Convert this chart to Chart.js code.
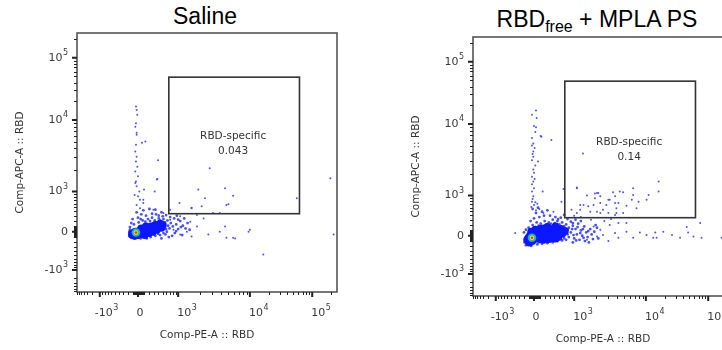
<!DOCTYPE html>
<html>
<head>
<meta charset="utf-8">
<script src="https://cdn.jsdelivr.net/npm/chart.js@4.4.1/dist/chart.umd.min.js"></script>
<style>
html, body { margin: 0; padding: 0; background: #fff; overflow: hidden; width: 722px; height: 350px; }
.panel { position: absolute; }
.title { position: absolute; font-family: "Liberation Sans", Arial, sans-serif; font-size: 23px; line-height: 23px; color: #000; text-align: center; white-space: nowrap; }
.title sub { font-size: 16px; line-height: 0; vertical-align: -5px; }
</style>
</head>
<body>
<div class="title" style="left:105px;top:5px;width:200px;">Saline</div>
<div class="title" style="left:457px;top:8px;width:280px;">RBD<sub>free</sub> + MPLA PS</div>
<canvas id="saline" class="panel" width="360" height="350" style="left:0;top:0"></canvas>
<canvas id="mpla" class="panel" width="360" height="350" style="left:396px;top:4px"></canvas>
<script>
// values are in display (biexponential) units: 0 = zero, ticks below mark 10^3, 10^4, 10^5
const tickValues = [-0.57, 0, 0.6, 1.67, 2.6];
const tickBases = ['-10', '0', '10', '10', '10'];
const tickExps = ['3', '', '3', '4', '5'];
const xRange = [-0.91, 2.97];
const yRange = [-0.9, 2.97];

// gate "RBD-specific": [xMin, xMax, yMin, yMax]
const gate = [0.46, 2.41, 0.27, 2.31];
const gateName = 'RBD-specific';
const gateFreq = ['0.043', '0.14'];

// ---- Saline ----
const salineHot = [[-0.03, -0.01]];
const salineCore = [
  [-0.09, -0.04], [-0.05, -0.06], [-0.04, 0.0], [0.0, -0.05], [0.02, 0.01], [0.06, -0.03],
  [0.08, 0.03], [0.12, 0.0], [0.14, 0.06], [0.18, 0.02], [0.2, 0.08], [0.24, 0.05],
  [0.26, 0.1], [0.3, 0.07], [0.33, 0.12], [0.37, 0.1], [0.1, -0.05], [0.16, -0.02],
  [0.22, 0.0], [0.05, 0.05], [0.12, 0.08], [0.28, 0.03], [0.35, 0.06], [-0.07, -0.02],
  [0.04, -0.01], [0.1, 0.02], [0.16, 0.04], [0.22, 0.06], [0.28, 0.08], [0.0, 0.0]
];
const salineHalo = [
  [-0.12, 0.07], [-0.06, 0.11], [0.01, 0.14], [0.07, 0.17], [0.15, 0.19], [0.21, 0.21],
  [0.31, 0.2], [0.38, 0.19], [0.44, 0.17], [0.49, 0.13], [0.47, 0.05], [0.43, 0.0],
  [0.41, -0.04], [0.33, -0.05], [0.26, -0.06], [0.19, -0.08], [0.13, -0.1], [0.04, -0.1],
  [-0.05, -0.1], [-0.12, -0.07], [-0.13, 0.0], [0.0, 0.21], [0.05, 0.26], [0.12, 0.24],
  [0.21, 0.27], [0.27, 0.26], [0.35, 0.29], [0.42, 0.25], [0.54, 0.2], [0.57, 0.11],
  [0.6, 0.04], [0.55, -0.02], [0.51, -0.06], [0.63, 0.16], [0.67, 0.09], [0.71, 0.05],
  [0.66, -0.05], [0.74, 0.13], [0.46, -0.08], [-0.02, 0.29], [0.08, 0.32], [0.17, 0.34],
  [0.26, 0.33], [-0.08, 0.19], [0.35, -0.1], [0.58, 0.24], [0.69, 0.2], [0.77, 0.03],
  [-0.1, 0.13], [0.04, 0.19], [0.11, 0.15], [0.18, 0.16], [0.25, 0.17], [0.33, 0.17],
  [0.4, 0.14], [0.45, 0.09], [0.52, 0.08], [0.42, 0.04], [0.38, -0.02], [0.3, -0.03],
  [0.24, -0.04], [0.17, -0.06], [0.08, -0.08], [-0.01, -0.08], [-0.1, -0.09], [-0.12, 0.03],
  [0.31, 0.24], [0.37, 0.23], [0.48, 0.22], [0.6, 0.18], [0.64, 0.07], [0.57, 0.01]
];
const salineSparse = [
  [-0.03, 1.87], [-0.02, 1.82], [-0.01, 1.75], [-0.03, 1.62], [-0.04, 1.57], [-0.02, 1.48],
  [-0.02, 1.45], [0.06, 1.33], [0.11, 1.35], [-0.03, 1.3], [-0.04, 1.2], [-0.02, 1.12],
  [-0.03, 1.05], [-0.01, 0.97], [-0.04, 0.9], [0.0, 0.83], [0.3, 1.07], [0.29, 0.79],
  [0.28, 0.78], [-0.04, 0.73], [-0.03, 0.75], [-0.02, 0.68], [0.09, 0.63], [0.25, 0.6],
  [0.02, 0.6], [-0.05, 0.55], [0.0, 0.53], [0.03, 0.48], [-0.02, 0.4], [0.08, 0.43],
  [0.08, 0.48], [0.03, 0.35], [0.23, 0.33], [0.38, 0.28], [0.48, 0.33], [0.48, 0.18],
  [1.07, 0.95], [0.9, 0.63], [1.0, 0.5], [0.8, 0.35], [0.62, 0.43], [1.3, 0.65],
  [1.32, 0.4], [1.12, 0.28], [1.42, 0.54], [1.35, 0.41], [0.95, 0.38], [2.37, 0.5],
  [2.87, 0.8], [1.22, 0.28], [0.8, 0.36], [0.63, 0.23], [0.88, 0.25], [0.98, 0.2],
  [0.78, 0.15], [0.88, 0.08], [1.3, 0.08], [1.32, -0.09], [1.45, -0.1], [1.67, 0.03],
  [1.65, 0.0], [1.42, -0.09], [1.05, -0.04], [1.22, 0.0], [0.8, -0.07], [0.73, 0.0],
  [0.63, -0.04], [0.53, 0.03], [2.92, -0.04], [1.87, -0.34]
];

// ---- RBDfree + MPLA PS ----
const mplaHot = [[-0.03, -0.03]];
const mplaCore = [
  [-0.1, -0.06], [-0.07, -0.1], [-0.06, 0.0], [-0.02, -0.07], [0.0, 0.03], [0.03, -0.04],
  [0.06, 0.06], [0.08, -0.02], [0.12, 0.04], [0.14, -0.06], [0.17, 0.08], [0.19, 0.0],
  [0.23, 0.05], [0.25, -0.04], [0.28, 0.1], [0.3, 0.02], [0.34, 0.07], [0.36, -0.02],
  [0.4, 0.1], [0.42, 0.03], [0.46, 0.07], [0.1, 0.1], [0.2, 0.13], [0.02, 0.09],
  [0.32, 0.14], [-0.04, 0.06], [-0.08, -0.03], [-0.03, -0.02], [0.04, 0.01], [0.1, -0.05],
  [0.15, 0.02], [0.21, -0.05], [0.26, 0.04], [0.32, -0.04], [0.38, 0.05], [0.14, 0.11]
];
const mplaHalo = [
  [-0.15, 0.05], [-0.14, -0.1], [-0.08, 0.12], [-0.02, 0.16], [0.04, 0.2], [0.1, 0.18],
  [0.16, 0.22], [0.22, 0.2], [0.28, 0.24], [0.35, 0.22], [0.42, 0.2], [0.48, 0.17],
  [0.52, 0.12], [0.55, 0.05], [0.52, -0.02], [0.48, -0.06], [0.42, -0.07], [0.35, -0.08],
  [0.28, -0.1], [0.2, -0.11], [0.12, -0.12], [0.05, -0.13], [-0.04, -0.15], [-0.12, -0.14],
  [0.58, 0.15], [0.62, 0.1], [0.64, 0.02], [0.6, -0.04], [0.66, 0.18], [0.7, 0.08],
  [0.72, 0.0], [0.68, -0.06], [0.75, 0.14], [0.78, 0.05], [0.8, -0.02], [0.76, -0.08],
  [0.84, 0.1], [0.86, 0.02], [0.9, 0.06], [0.0, 0.26], [0.08, 0.28], [0.15, 0.3],
  [0.24, 0.3], [0.32, 0.28], [0.4, 0.27], [0.5, 0.25], [-0.05, 0.22], [0.55, 0.21],
  [0.62, 0.24], [0.7, 0.22], [0.45, 0.31], [0.03, 0.34], [0.12, 0.36], [0.2, 0.38],
  [0.58, -0.1], [0.82, -0.1], [0.94, 0.12], [0.96, -0.04], [-0.02, 0.4], [0.06, 0.42],
  [-0.12, 0.09], [0.02, 0.13], [0.07, 0.15], [0.19, 0.17], [0.25, 0.18], [0.31, 0.19],
  [0.38, 0.17], [0.45, 0.14], [0.5, 0.09], [0.5, 0.02], [0.45, -0.04], [0.4, -0.05],
  [0.31, -0.07], [0.24, -0.08], [0.16, -0.09], [0.07, -0.1], [-0.01, -0.12], [-0.09, -0.12],
  [0.57, 0.1], [0.59, 0.01], [0.65, 0.13], [0.69, 0.04], [0.73, 0.1], [0.74, -0.03],
  [0.81, 0.07], [0.63, -0.07], [0.36, 0.25], [0.58, 0.19], [0.88, -0.05], [0.92, 0.16]
];
const mplaSparse = [
  [0.03, 1.87], [-0.03, 1.81], [0.04, 1.76], [0.0, 1.64], [0.03, 1.62], [0.02, 1.55],
  [0.11, 1.48], [0.1, 1.49], [0.26, 1.43], [-0.03, 1.46], [-0.01, 1.38], [-0.03, 1.35],
  [0.01, 1.31], [-0.01, 1.26], [-0.02, 1.22], [-0.01, 1.18], [0.06, 1.11], [-0.03, 1.13],
  [0.02, 1.05], [-0.01, 0.99], [0.0, 0.94], [-0.03, 0.88], [0.01, 0.85], [-0.01, 0.81],
  [-0.03, 0.77], [0.0, 0.71], [-0.03, 0.66], [0.13, 0.66], [-0.01, 0.59], [-0.02, 0.55],
  [-0.03, 0.51], [0.02, 0.5], [0.0, 0.46], [-0.04, 0.43], [0.03, 0.38], [0.05, 0.48],
  [0.08, 0.4], [0.44, 0.7], [0.41, 0.51], [0.29, 0.36], [0.14, 0.34], [0.73, 1.23],
  [0.64, 0.72], [0.69, 0.46], [0.81, 0.44], [0.94, 0.64], [0.91, 0.56], [0.99, 0.59],
  [1.11, 0.54], [1.21, 0.49], [0.56, 0.39], [0.84, 0.36], [1.03, 0.39], [1.23, 0.34],
  [0.79, 0.6], [0.91, 0.63], [0.96, 0.64], [1.18, 0.65], [1.33, 0.65], [1.48, 0.61],
  [1.71, 0.61], [1.86, 0.66], [1.56, 0.51], [1.53, 0.41], [1.38, 0.45], [1.26, 0.49],
  [1.13, 0.54], [1.08, 0.46], [0.99, 0.49], [0.89, 0.46], [0.74, 0.46], [0.69, 0.39],
  [0.64, 0.34], [0.99, 0.34], [1.11, 0.34], [1.21, 0.31], [1.33, 0.34], [0.94, 0.36],
  [1.23, 0.41], [1.21, 0.59], [1.46, 0.54], [1.48, 0.71], [1.68, 0.54], [1.28, 0.66],
  [1.86, 0.81], [0.64, 0.71], [2.28, 0.13], [2.48, 0.19], [1.38, 0.19], [1.26, 0.19],
  [1.38, 0.06], [1.58, 0.05], [1.68, 0.01], [1.81, 0.05], [1.93, 0.06], [1.78, -0.03],
  [1.83, -0.03], [2.06, 0.01], [2.18, -0.03], [2.3, 0.05], [2.38, -0.01], [2.5, -0.03],
  [1.48, -0.03], [1.26, -0.03], [1.11, -0.08], [1.03, 0.01], [1.21, 0.04], [0.99, 0.09],
  [0.89, 0.14], [1.13, 0.16], [0.79, -0.06], [0.94, -0.01], [-0.28, 0.04], [2.8, -0.03],
  [1.05, 0.22], [0.85, 0.24], [1.15, 0.25], [0.7, 0.28], [0.6, 0.3]
];

// minor tick positions for the axes (decoration only)
function minorTickPositions() {
  const out = [];
  const lin = v => Math.asinh(v / 500) / Math.asinh(2);
  for (let k = 1; k <= 9; k++) {
    out.push(0.6 * lin(10 * k), -0.57 * lin(10 * k));
    out.push(0.6 * lin(100 * k), -0.57 * lin(100 * k));
    if (k > 1) {
      out.push(0.6 + 1.07 * Math.log10(k));
      out.push(1.67 + 0.93 * Math.log10(k));
      out.push(2.6 + 0.93 * Math.log10(k));
      out.push(-0.57 - 0.4 * Math.log10(k));
    }
  }
  return out;
}
const minorTicks = minorTickPositions();

const textColor = '#333';
const tickFont = '"DejaVu Sans", sans-serif';

function drawPow(ctx, base, exp, x, y, mode) {
  ctx.font = '11px ' + tickFont;
  const bw = ctx.measureText(base).width;
  const mw = base.startsWith('-') ? ctx.measureText('-').width : 0;
  ctx.font = '8px ' + tickFont;
  const ew = exp ? ctx.measureText(exp).width + 0.5 : 0;
  let left;
  if (mode === 'right') left = x - bw - ew;
  else if (exp) left = x - mw - 1;
  else left = x - bw / 2 + 2;
  ctx.textAlign = 'left';
  ctx.textBaseline = 'middle';
  ctx.font = '11px ' + tickFont;
  ctx.fillText(base, left, y);
  if (exp) {
    ctx.font = '8px ' + tickFont;
    ctx.fillText(exp, left + bw + 0.5, y - 5);
  }
}

const flowAxes = {
  id: 'flowAxes',
  afterDatasetsDraw(chart, args, opts) {
    const { ctx, chartArea: a, scales: { x, y } } = chart;
    ctx.save();
    ctx.fillStyle = textColor;
    ctx.strokeStyle = '#333';

    // gate
    const gx1 = x.getPixelForValue(gate[0]), gx2 = x.getPixelForValue(gate[1]);
    const gy1 = y.getPixelForValue(gate[3]), gy2 = y.getPixelForValue(gate[2]);
    ctx.lineWidth = 1.6;
    ctx.strokeRect(gx1, gy1, gx2 - gx1, gy2 - gy1);
    ctx.font = '10.5px ' + tickFont;
    ctx.textAlign = 'center';
    ctx.textBaseline = 'middle';
    const lx = x.getPixelForValue(opts.labelAt[0]), ly = y.getPixelForValue(opts.labelAt[1]);
    ctx.fillText(gateName, lx, ly);
    ctx.fillText(opts.freq, lx, ly + 15);

    // frame
    ctx.strokeStyle = '#555';
    ctx.lineWidth = 1.6;
    ctx.strokeRect(a.left, a.top, a.right - a.left, a.bottom - a.top);

    // tick marks
    ctx.strokeStyle = '#222';
    ctx.lineWidth = 1;
    ctx.beginPath();
    minorTicks.forEach(v => {
      if (v > xRange[0] && v < xRange[1]) {
        const px = Math.round(x.getPixelForValue(v)) + 0.5;
        ctx.moveTo(px, a.bottom); ctx.lineTo(px, a.bottom + 3);
      }
      if (v > yRange[0] && v < yRange[1]) {
        const py = Math.round(y.getPixelForValue(v)) + 0.5;
        ctx.moveTo(a.left, py); ctx.lineTo(a.left - 3, py);
      }
    });
    ctx.stroke();
    ctx.lineWidth = 2;
    ctx.beginPath();
    tickValues.forEach(v => {
      const px = x.getPixelForValue(v), py = y.getPixelForValue(v);
      ctx.moveTo(px, a.bottom); ctx.lineTo(px, a.bottom + 5);
      ctx.moveTo(a.left, py); ctx.lineTo(a.left - 5, py);
    });
    ctx.stroke();

    // tick labels
    ctx.fillStyle = '#3a3a3a';
    tickValues.forEach((v, i) => {
      drawPow(ctx, tickBases[i], tickExps[i], x.getPixelForValue(v), a.bottom + 21, 'center');
      drawPow(ctx, tickBases[i], tickExps[i], a.left - 9, y.getPixelForValue(v), 'right');
    });

    // axis titles
    ctx.fillStyle = textColor;
    ctx.font = '10.5px ' + tickFont;
    ctx.textAlign = 'center';
    ctx.textBaseline = 'middle';
    ctx.fillText('Comp-PE-A :: RBD', (a.left + a.right) / 2, a.bottom + 43);
    ctx.translate(20, (a.top + a.bottom) / 2);
    ctx.rotate(-Math.PI / 2);
    ctx.fillText('Comp-APC-A :: RBD', 0, 0);
    ctx.restore();
  }
};

const toXY = arr => arr.map(p => ({ x: p[0], y: p[1] }));

function panel(id, hot, core, halo, sparse, freq, labelAt) {
  const pts = (data, r, color) => ({ data: toXY(data), pointRadius: r, backgroundColor: color, borderWidth: 0, pointHoverRadius: r });
  new Chart(document.getElementById(id), {
    type: 'scatter',
    data: {
      datasets: [
        pts(hot, 1.3, '#ff2a1a'),
        pts(hot, 2.2, '#f2e82c'),
        pts(hot, 3.1, '#22d04a'),
        pts(hot, 4.3, '#1aa8ff'),
        pts(core, 4.0, 'rgb(12,22,255)'),
        pts(halo, 1.4, 'rgba(25,35,255,0.8)'),
        pts(sparse, 1.0, 'rgba(55,65,255,0.9)')
      ]
    },
    options: {
      responsive: false,
      animation: false,
      devicePixelRatio: 1,
      layout: { padding: { left: 77, top: 33, right: 23, bottom: 58 } },
      scales: {
        x: { type: 'linear', display: false, min: xRange[0], max: xRange[1] },
        y: { type: 'linear', display: false, min: yRange[0], max: yRange[1] }
      },
      plugins: {
        legend: { display: false },
        tooltip: { enabled: false },
        flowAxes: { freq: freq, labelAt: labelAt }
      }
    },
    plugins: [flowAxes]
  });
}

panel('saline', salineHot, salineCore, salineHalo, salineSparse, gateFreq[0], [1.42, 1.42]);
panel('mpla', mplaHot, mplaCore, mplaHalo, mplaSparse, gateFreq[1], [1.42, 1.4]);
</script>
</body>
</html>
